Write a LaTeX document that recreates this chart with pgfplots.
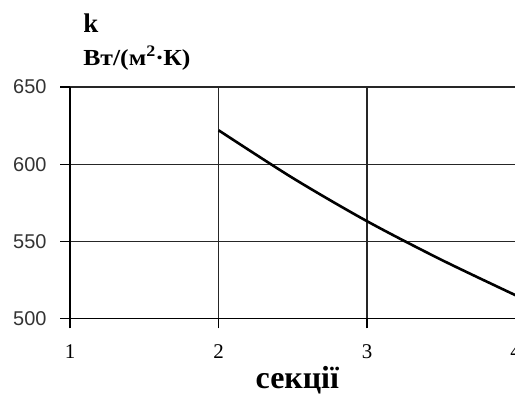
\documentclass[border=0pt]{standalone}
\usepackage{pgfplots}
\pgfplotsset{compat=1.18}
\usepackage{fontspec}
\setmainfont{Liberation Serif}
\setsansfont{Liberation Sans}

\begin{document}
\begin{tikzpicture}
% page frame: axis origin sits 70bp from the left and 77bp above the bottom
\useasboundingbox (-70bp,-77bp) rectangle (444.4bp,318bp);
\begin{axis}[
  scale only axis,
  width=445bp, height=231bp,
  xmin=1, xmax=4, ymin=500, ymax=650,
  xtick={1,2,3,4}, ytick={500,550,600,650},
  axis x line=bottom, axis y line=left,
  axis line style={line width=1.2bp, -},
  grid=major,
  major grid style={black!85, line width=1.2bp},
  tick align=outside,
  major tick length=10bp,
  tick style={black, line width=1.2bp},
  xticklabel style={font=\fontsize{21}{21}\selectfont, yshift=-13bp},
  yticklabel style={font=\sffamily\fontsize{20}{20}\selectfont, text=black!80, xshift=-10bp},
  /pgf/number format/assume math mode=true,
  clip=true,
]
\addplot[black, line width=2.6bp, smooth] coordinates {
  (2,622) (2.5,591) (3,563) (3.5,538) (4,515)
};
\end{axis}
\node[anchor=base west, font=\bfseries\fontsize{27}{27}\selectfont, inner sep=0pt] at (13bp,286bp) {k};
\node[anchor=base west, font=\bfseries\fontsize{23}{23}\selectfont, xscale=1.12, inner sep=0pt] at (13bp,253bp) {Вт/(м\textsuperscript{2}\kern-0.5pt·\kern-0.5ptК)};
\node[anchor=base, font=\bfseries\fontsize{32}{32}\selectfont, inner sep=0pt] at (227bp,-70bp) {секції};
\end{tikzpicture}
\end{document}
